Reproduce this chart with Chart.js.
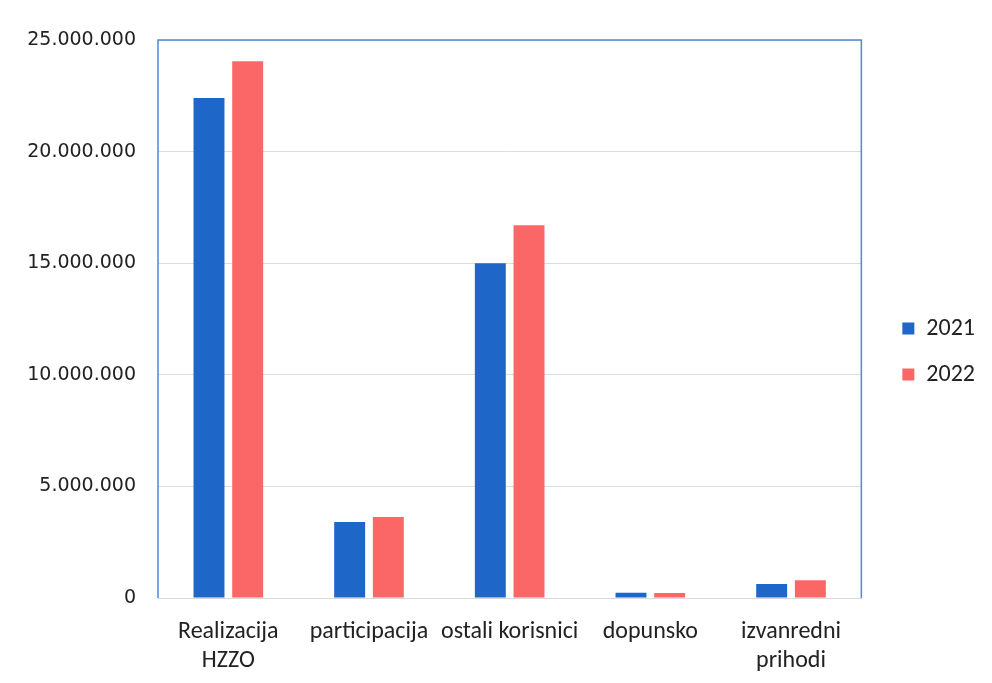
<!DOCTYPE html>
<html>
<head>
<meta charset="utf-8">
<script src="https://cdn.jsdelivr.net/npm/chart.js@4/dist/chart.umd.min.js"></script>
<style>
  html, body { margin: 0; padding: 0; background: #fff; }
  #wrap { width: 992px; height: 683px; position: relative; }
</style>
</head>
<body>
<div id="wrap"><canvas id="chart"></canvas></div>
<script>
const categories = [['Realizacija', 'HZZO'], 'participacija', 'ostali korisnici', 'dopunsko', ['izvanredni', 'prihodi']]
const years      = ['2021', '2022']
const values2021 = [22400000, 3400000, 15000000, 230000, 630000]
const values2022 = [24050000, 3630000, 16700000, 220000, 800000]
const yTicks     = [0, 5000000, 10000000, 15000000, 20000000, 25000000]

const COLORS = ['#1e67c9', '#fb6767']
const LABEL_FONT = 'Carlito, Lato, "Liberation Sans", sans-serif'

const fmt = v => String(v).replace(/\B(?=(\d{3})+(?!\d))/g, '.')

// blue frame round the plot area, grey base line
const framePlugin = {
  id: 'frame',
  afterLayout(chart) {
    // nudge the legend right and up, like the original
    const lg = chart.legend
    if (lg) {
      lg.left += 19
      lg.right += 19
      lg.top -= 10
      lg.bottom -= 10
    }
  },
  afterDraw(chart) {
    const { ctx, chartArea: a } = chart
    ctx.save()
    ctx.strokeStyle = '#4f88d3'
    ctx.lineWidth = 1.5
    ctx.beginPath()
    ctx.moveTo(a.left, a.bottom)
    ctx.lineTo(a.left, a.top)
    ctx.lineTo(a.right, a.top)
    ctx.lineTo(a.right, a.bottom)
    ctx.stroke()
    ctx.restore()
  },
}

new Chart(document.getElementById('chart'), {
  type: 'bar',
  data: {
    labels: categories,
    datasets: [
      { label: years[0], data: values2021, backgroundColor: COLORS[0] },
      { label: years[1], data: values2022, backgroundColor: COLORS[1] },
    ],
  },
  options: {
    responsive: true,
    maintainAspectRatio: false,
    animation: false,
    categoryPercentage: 0.55,
    barPercentage: 0.8,
    layout: { padding: { top: 40, right: 26, bottom: 0, left: 0 } },
    plugins: {
      tooltip: { enabled: false },
      legend: {
        position: 'right',
        labels: {
          boxWidth: 12,
          boxHeight: 12,
          padding: 22,
          color: '#222',
          font: { family: LABEL_FONT, size: 24 },
        },
      },
    },
    scales: {
      x: {
        grid: { display: false, drawTicks: false },
        border: { color: '#d9d9d9', width: 1 },
        ticks: {
          color: '#222',
          padding: 19,
          maxRotation: 0,
          autoSkip: false,
          font: { family: LABEL_FONT, size: 24, lineHeight: 1.22 },
        },
        afterFit: s => { s.height = 85 },
      },
      y: {
        min: 0,
        max: 25000000,
        afterBuildTicks: s => { s.ticks = yTicks.map(v => ({ value: v })) },
        grid: { color: '#dcdcdc', drawTicks: false },
        border: { display: false },
        ticks: {
          color: '#222',
          padding: 22,
          font: { family: '"DejaVu Sans", sans-serif', size: 19 },
          callback: v => fmt(v),
        },
        afterFit: s => { s.width = 158 },
      },
    },
  },
  plugins: [framePlugin],
})
</script>
</body>
</html>
